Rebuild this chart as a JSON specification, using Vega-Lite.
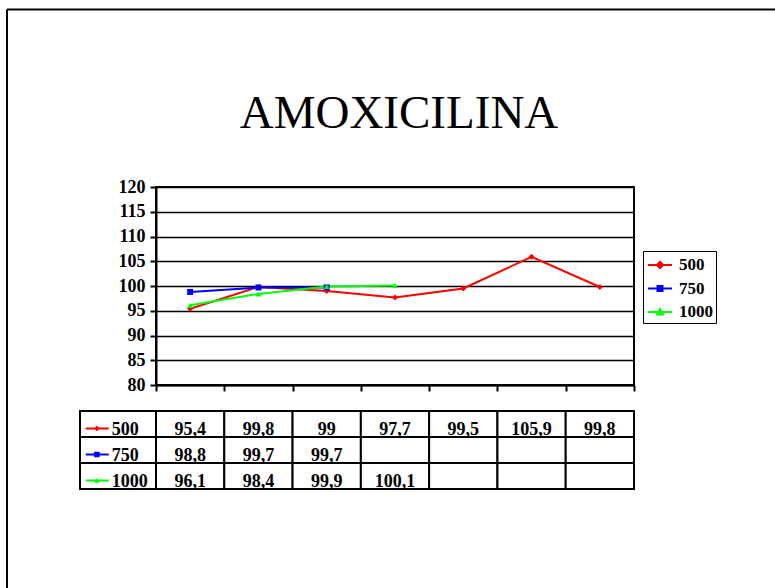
{
  "$schema": "https://vega.github.io/schema/vega-lite/v6.json",
  "width": 478,
  "height": 198,
  "autosize": {"type": "none"},
  "padding": {"left": 156, "top": 187, "right": 141, "bottom": 203},
  "background": "white",
  "title": {
    "text": "AMOXICILINA",
    "font": "Liberation Serif",
    "fontSize": 47,
    "fontWeight": "normal",
    "color": "black",
    "anchor": "middle",
    "frame": "group",
    "dx": 4,
    "baseline": "alphabetic",
    "offset": -167
  },
  "config": {
    "locale": {"number": {"decimal": ",", "thousands": ".", "grouping": [3], "currency": ["", " €"]}},
    "view": {"stroke": "black", "strokeWidth": 2},
    "font": "Liberation Serif"
  },
  "data": {
    "values": [
      {"series": "500", "idx": 1, "value": 95.4},
      {"series": "500", "idx": 2, "value": 99.8},
      {"series": "500", "idx": 3, "value": 99},
      {"series": "500", "idx": 4, "value": 97.7},
      {"series": "500", "idx": 5, "value": 99.5},
      {"series": "500", "idx": 6, "value": 105.9},
      {"series": "500", "idx": 7, "value": 99.8},
      {"series": "750", "idx": 1, "value": 98.8},
      {"series": "750", "idx": 2, "value": 99.7},
      {"series": "750", "idx": 3, "value": 99.7},
      {"series": "750", "idx": 4, "value": null},
      {"series": "750", "idx": 5, "value": null},
      {"series": "750", "idx": 6, "value": null},
      {"series": "750", "idx": 7, "value": null},
      {"series": "1000", "idx": 1, "value": 96.1},
      {"series": "1000", "idx": 2, "value": 98.4},
      {"series": "1000", "idx": 3, "value": 99.9},
      {"series": "1000", "idx": 4, "value": 100.1},
      {"series": "1000", "idx": 5, "value": null},
      {"series": "1000", "idx": 6, "value": null},
      {"series": "1000", "idx": 7, "value": null}
    ]
  },
  "resolve": {"scale": {"y": "independent", "color": "independent", "shape": "independent", "fill": "independent", "stroke": "independent"}},
  "layer": [
    {
      "data": {"values": [{}]},
      "mark": {"type": "rule", "color": "black", "strokeWidth": 2},
      "encoding": {
        "x": {"datum": -1.682, "type": "quantitative", "scale": {"domain": [0.5, 7.5], "nice": false, "zero": false}},
        "y": {"datum": 30, "type": "quantitative", "scale": {"domain": [80, 120], "nice": false, "zero": false}, "axis": null},
        "y2": {"datum": 155.86}
      }
    },
    {
      "data": {"values": [{}]},
      "mark": {"type": "rule", "color": "black", "strokeWidth": 2},
      "encoding": {
        "x": {"datum": -1.682, "type": "quantitative", "scale": {"domain": [0.5, 7.5], "nice": false, "zero": false}},
        "x2": {"datum": 10},
        "y": {"datum": 155.86, "type": "quantitative", "scale": {"domain": [80, 120], "nice": false, "zero": false}, "axis": null}
      }
    },
    {
      "mark": {"type": "rect", "width": 68.29, "fill": "white", "stroke": "black", "strokeWidth": 2},
      "encoding": {
        "x": {"field": "idx", "type": "quantitative", "scale": {"domain": [0.5, 7.5], "nice": false, "zero": false}},
        "y": {"field": "series", "type": "nominal", "scale": {"type": "band", "domain": ["500", "750", "1000"], "range": [224, 302], "paddingInner": 0, "paddingOuter": 0}, "axis": null}
      }
    },
    {
      "transform": [{"filter": "datum.idx == 1"}],
      "mark": {"type": "rect", "width": 76, "xOffset": -3.86, "fill": "white", "stroke": "black", "strokeWidth": 2},
      "encoding": {
        "x": {"datum": 0, "type": "quantitative", "scale": {"domain": [0.5, 7.5], "nice": false, "zero": false}},
        "y": {"field": "series", "type": "nominal", "scale": {"type": "band", "domain": ["500", "750", "1000"], "range": [224, 302], "paddingInner": 0, "paddingOuter": 0}, "axis": null}
      }
    },
    {
      "transform": [{"filter": "datum.value != null"}],
      "mark": {"type": "text", "font": "Liberation Serif", "fontWeight": "bold", "fontSize": 18, "color": "black", "align": "center", "baseline": "alphabetic", "dy": 11},
      "encoding": {
        "x": {"field": "idx", "type": "quantitative", "scale": {"domain": [0.5, 7.5], "nice": false, "zero": false}},
        "y": {"field": "series", "type": "nominal", "scale": {"type": "band", "domain": ["500", "750", "1000"], "range": [224, 302], "paddingInner": 0, "paddingOuter": 0}, "axis": null},
        "text": {"field": "value", "type": "quantitative", "format": "~g"}
      }
    },
    {
      "transform": [{"filter": "datum.idx == 1"}],
      "mark": {"type": "text", "font": "Liberation Serif", "fontWeight": "bold", "fontSize": 18, "color": "black", "align": "left", "baseline": "alphabetic", "dy": 11, "xOffset": -10.2},
      "encoding": {
        "x": {"datum": 0, "type": "quantitative", "scale": {"domain": [0.5, 7.5], "nice": false, "zero": false}},
        "y": {"field": "series", "type": "nominal", "scale": {"type": "band", "domain": ["500", "750", "1000"], "range": [224, 302], "paddingInner": 0, "paddingOuter": 0}, "axis": null},
        "text": {"field": "series", "type": "nominal"}
      }
    },
    {
      "transform": [{"filter": "datum.idx == 1"}],
      "mark": {"type": "tick", "orient": "horizontal", "size": 23, "thickness": 2, "opacity": 1, "xOffset": -24.6, "yOffset": 4.5},
      "encoding": {
        "x": {"datum": 0, "type": "quantitative", "scale": {"domain": [0.5, 7.5], "nice": false, "zero": false}},
        "y": {"field": "series", "type": "nominal", "scale": {"type": "band", "domain": ["500", "750", "1000"], "range": [224, 302], "paddingInner": 0, "paddingOuter": 0}, "axis": null},
        "color": {"field": "series", "type": "nominal", "scale": {"domain": ["500", "750", "1000"], "range": ["#ff0000", "#0000ff", "#00ff00"]}, "legend": null}
      }
    },
    {
      "transform": [{"filter": "datum.idx == 1"}],
      "mark": {"type": "point", "filled": true, "opacity": 1, "size": 30, "xOffset": -25, "yOffset": 4.5},
      "encoding": {
        "x": {"datum": 0, "type": "quantitative", "scale": {"domain": [0.5, 7.5], "nice": false, "zero": false}},
        "y": {"field": "series", "type": "nominal", "scale": {"type": "band", "domain": ["500", "750", "1000"], "range": [224, 302], "paddingInner": 0, "paddingOuter": 0}, "axis": null},
        "color": {"field": "series", "type": "nominal", "scale": {"domain": ["500", "750", "1000"], "range": ["#ff0000", "#0000ff", "#00ff00"]}, "legend": null},
        "shape": {"field": "series", "type": "nominal", "scale": {"domain": ["500", "750", "1000"], "range": ["diamond", "square", "triangle-up"]}, "legend": null}
      }
    },
    {
      "transform": [{"filter": "datum.value != null"}],
      "mark": {"type": "line", "strokeWidth": 2},
      "encoding": {
        "x": {"field": "idx", "type": "quantitative", "scale": {"domain": [0.5, 7.5], "nice": false, "zero": false},
          "axis": {"values": [0.5, 1.5, 2.5, 3.5, 4.5, 5.5, 6.5, 7.5], "labels": false, "title": null, "grid": false, "domainColor": "black", "domainWidth": 2, "tickColor": "black", "tickWidth": 2, "tickSize": 6}},
        "y": {"field": "value", "type": "quantitative", "scale": {"domain": [80, 120], "nice": false, "zero": false},
          "axis": {"values": [80, 85, 90, 95, 100, 105, 110, 115, 120], "title": null, "grid": true, "gridColor": "black", "gridWidth": 1.5, "gridOpacity": 1, "domainColor": "black", "domainWidth": 2, "tickColor": "black", "tickWidth": 2, "tickSize": 6, "labelFont": "Liberation Serif", "labelFontWeight": "bold", "labelFontSize": 18, "labelColor": "black", "labelPadding": 5, "labelFlush": false, "labelOverlap": false}},
        "color": {"field": "series", "type": "nominal", "scale": {"domain": ["500", "750", "1000"], "range": ["#ff0000", "#0000ff", "#00ff00"]}, "legend": null}
      }
    },
    {
      "transform": [{"filter": "datum.value != null"}],
      "mark": {"type": "point", "filled": true, "opacity": 1, "size": 36},
      "encoding": {
        "x": {"field": "idx", "type": "quantitative", "scale": {"domain": [0.5, 7.5], "nice": false, "zero": false}},
        "y": {"field": "value", "type": "quantitative", "scale": {"domain": [80, 120], "nice": false, "zero": false}, "axis": null},
        "color": {"field": "series", "type": "nominal", "scale": {"domain": ["500", "750", "1000"], "range": ["#ff0000", "#0000ff", "#00ff00"]}, "legend": null},
        "shape": {"field": "series", "type": "nominal", "scale": {"domain": ["500", "750", "1000"], "range": ["diamond", "square", "triangle-up"]}, "legend": null}
      }
    },
    {
      "transform": [{"filter": "datum.idx == 0"}],
      "mark": {"type": "point", "opacity": 1, "strokeWidth": 2},
      "encoding": {
        "x": {"field": "idx", "type": "quantitative", "scale": {"domain": [0.5, 7.5], "nice": false, "zero": false}},
        "y": {"field": "value", "type": "quantitative", "scale": {"domain": [80, 120], "nice": false, "zero": false}, "axis": null},
        "fill": {
          "field": "series", "type": "nominal",
          "scale": {"domain": ["500", "750", "1000"], "range": ["#ff0000", "#0000ff", "#00ff00"]},
          "legend": {
            "title": null, "orient": "none", "legendX": 487, "legendY": 64,
            "strokeColor": "black", "fillColor": "white", "padding": 3,
            "labelFont": "Liberation Serif", "labelFontWeight": "bold", "labelFontSize": 17, "labelColor": "black",
            "symbolSize": 400, "symbolStrokeWidth": 2, "symbolOpacity": 1, "symbolOffset": 3, "labelOffset": 8, "rowPadding": 4.5
          }
        },
        "stroke": {
          "field": "series", "type": "nominal",
          "scale": {"domain": ["500", "750", "1000"], "range": ["#ff0000", "#0000ff", "#00ff00"]},
          "legend": {
            "title": null, "orient": "none", "legendX": 487, "legendY": 64,
            "strokeColor": "black", "fillColor": "white", "padding": 3,
            "labelFont": "Liberation Serif", "labelFontWeight": "bold", "labelFontSize": 17, "labelColor": "black",
            "symbolSize": 400, "symbolStrokeWidth": 2, "symbolOpacity": 1, "symbolOffset": 3, "labelOffset": 8, "rowPadding": 4.5
          }
        },
        "shape": {
          "field": "series", "type": "nominal",
          "scale": {"domain": ["500", "750", "1000"], "range": ["M-1.2,0H1.2M0,-0.32L0.32,0L0,0.32L-0.32,0Z", "M-1.2,0H1.2M-0.25,-0.25H0.25V0.25H-0.25Z", "M-1.2,0H1.2M0,-0.3L0.3,0.25H-0.3Z"]},
          "legend": {
            "title": null, "orient": "none", "legendX": 487, "legendY": 64,
            "strokeColor": "black", "fillColor": "white", "padding": 3,
            "labelFont": "Liberation Serif", "labelFontWeight": "bold", "labelFontSize": 17, "labelColor": "black",
            "symbolSize": 400, "symbolStrokeWidth": 2, "symbolOpacity": 1, "symbolOffset": 3, "labelOffset": 8, "rowPadding": 4.5
          }
        }
      }
    }
  ]
}
